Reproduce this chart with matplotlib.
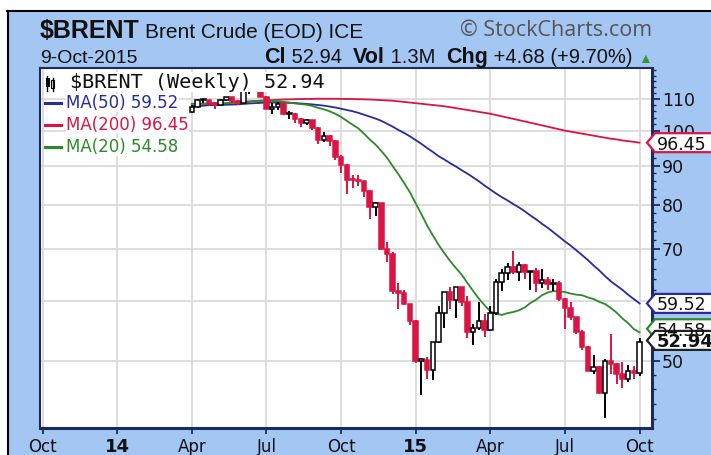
import matplotlib
matplotlib.use('Agg')
import matplotlib.pyplot as plt
from matplotlib.patches import Rectangle, Polygon
from matplotlib.lines import Line2D
from matplotlib.transforms import IdentityTransform
import pandas as pd

W, H = 711, 455

# ---------------- data ----------------
weeks = pd.date_range('2014-04-07', periods=79, freq='W-MON')
last_date = '9-Oct-2015'

opens = [105.8, 107.3, 109.5, 109.6, 108.6, 108.0, 109.8, 110.5, 109.4, 108.6,
         113.4, 114.8, 113.3, 110.6, 106.7, 107.2, 108.4, 105.0, 105.0, 103.5,
         102.3, 103.2, 100.8, 97.1, 98.4, 97.0, 92.3, 90.2, 86.2, 86.1,
         85.9, 83.4, 79.4, 80.4, 70.15, 69.07, 61.85, 61.38, 59.45, 56.4,
         50.11, 50.17, 48.79, 52.99, 57.8, 61.52, 60.22, 62.58, 59.73, 54.67,
         55.32, 56.41, 54.95, 57.87, 63.45, 65.28, 66.46, 65.39, 66.81, 65.37,
         65.56, 63.31, 63.87, 63.02, 63.26, 60.32, 58.73, 57.10, 54.62, 52.21,
         48.61, 49.19, 45.46, 50.05, 49.61, 48.14, 47.47, 48.60, 48.26]
highs = [108.0, 110.0, 110.1, 109.8, 108.9, 110.0, 110.7, 110.6, 109.5, 114.7,
         115.7, 115.3, 113.4, 110.8, 108.5, 108.9, 108.5, 106.1, 105.5, 103.8,
         103.6, 103.4, 101.0, 99.5, 98.6, 97.2, 93.0, 90.5, 87.5, 87.6,
         86.0, 83.6, 80.6, 80.5, 71.5, 69.4, 63.3, 62.0, 59.5, 56.7,
         50.5, 50.6, 53.0, 59.1, 61.5, 62.6, 62.6, 62.6, 60.8, 56.0,
         59.7, 57.6, 59.0, 64.0, 65.9, 67.1, 69.6, 67.5, 67.0, 65.7,
         66.2, 66.0, 64.5, 64.1, 63.6, 60.5, 59.8, 57.2, 54.9, 52.3,
         50.9, 49.3, 50.3, 54.3, 49.7, 49.9, 49.4, 49.3, 53.6]
lows = [105.5, 107.0, 108.6, 107.8, 106.8, 107.9, 109.4, 108.6, 107.9, 108.6,
        111.7, 112.8, 110.5, 106.7, 105.2, 106.3, 104.9, 103.7, 102.3, 101.0,
        101.8, 100.1, 96.2, 96.7, 95.6, 91.6, 88.1, 82.6, 84.2, 84.6,
        82.0, 76.8, 77.5, 69.8, 67.5, 61.3, 58.5, 59.2, 55.7, 49.7,
        45.2, 47.5, 47.3, 52.9, 55.3, 58.5, 57.0, 59.0, 53.7, 52.5,
        55.0, 53.8, 54.8, 57.5, 61.8, 63.9, 65.0, 63.6, 64.0, 61.9,
        61.6, 62.3, 61.9, 61.7, 60.0, 55.1, 56.6, 54.3, 51.7, 48.6,
        48.2, 45.3, 42.2, 48.2, 46.7, 46.2, 47.0, 47.4, 47.9]
closes = [107.3, 109.5, 109.6, 108.6, 108.0, 109.8, 110.5, 109.4, 108.6, 113.4,
          114.8, 113.3, 110.6, 106.7, 107.2, 108.4, 105.0, 105.0, 103.5, 102.3,
          103.2, 100.8, 97.1, 98.4, 97.0, 92.3, 90.2, 86.2, 86.1, 85.9,
          83.4, 79.4, 80.4, 70.15, 69.07, 61.85, 61.38, 59.45, 56.42, 50.11,
          50.17, 48.79, 52.99, 57.80, 61.52, 60.22, 62.58, 59.73, 54.67, 55.32,
          56.41, 54.95, 57.87, 63.45, 65.28, 66.46, 65.39, 66.81, 65.37, 65.56,
          63.31, 63.87, 63.02, 63.26, 60.32, 58.73, 57.10, 54.62, 52.21, 48.61,
          49.19, 45.46, 50.05, 49.61, 48.14, 47.47, 48.60, 48.26, 52.94]

ma20 = [108.4, 108.4, 108.5, 108.5, 108.5, 108.5, 108.6, 108.7, 108.7, 108.7,
        109.0, 109.3, 109.4, 109.3, 109.2, 109.2, 109.0, 108.8, 108.5, 108.3,
        108.1, 107.7, 107.1, 106.6, 106.0, 105.2, 104.2, 103.0, 101.8, 100.7,
        99.1, 97.4, 95.9, 94.1, 92.2, 89.9, 87.7, 85.4, 83.1, 80.4,
        77.8, 75.2, 73.0, 70.95, 69.2, 67.6, 66.2, 64.9, 63.3, 61.8,
        60.4, 59.2, 58.1, 57.7, 57.5, 57.8, 58.0, 58.3, 58.8, 59.6,
        60.2, 61.0, 61.5, 61.75, 61.7, 61.6, 61.3, 61.1, 61.0, 60.6,
        60.3, 59.8, 59.4, 58.7, 57.9, 56.9, 56.1, 55.1, 54.58]
ma50 = [107.8, 107.85, 107.9, 107.95, 108.0, 108.05, 108.1, 108.15, 108.2, 108.35,
        108.5, 108.6, 108.7, 108.8, 108.8, 108.8, 108.75, 108.7, 108.65, 108.5,
        108.35, 108.2, 108.0, 107.8, 107.5, 107.2, 106.8, 106.4, 106.0, 105.5,
        104.9, 104.3, 103.7, 103.0, 102.1, 101.2, 100.2, 99.3, 98.3, 97.2,
        96.1, 94.9, 93.8, 92.6, 91.7, 90.7, 89.8, 88.8, 87.9, 86.9,
        85.9, 84.8, 83.8, 82.8, 81.9, 81.1, 80.2, 79.4, 78.5, 77.5,
        76.6, 75.6, 74.7, 73.7, 72.7, 71.7, 70.8, 69.8, 68.8, 67.8,
        66.7, 65.7, 64.6, 63.6, 62.8, 62.0, 61.1, 60.3, 59.52]
ma200 = [107.4, 107.6, 107.8, 108.0, 108.2, 108.4, 108.6, 108.8, 108.9, 109.1,
         109.2, 109.3, 109.4, 109.5, 109.6, 109.7, 109.8, 109.85, 109.9, 109.95,
         110.0, 110.0, 110.05, 110.05, 110.05, 110.05, 110.0, 110.0, 109.95, 109.9,
         109.85, 109.8, 109.7, 109.6, 109.5, 109.4, 109.2, 109.0, 108.8, 108.6,
         108.4, 108.2, 108.0, 107.8, 107.6, 107.3, 107.0, 106.7, 106.4, 106.1,
         105.8, 105.5, 105.2, 104.8, 104.4, 104.0, 103.6, 103.2, 102.8, 102.4,
         102.0, 101.6, 101.2, 100.8, 100.4, 100.0, 99.7, 99.4, 99.1, 98.8,
         98.5, 98.2, 97.9, 97.6, 97.4, 97.1, 96.9, 96.7, 96.45]

x_tick_pos = [-26, -13, 0, 13, 26, 39, 52, 65, 78]
x_tick_labels = ['Oct', '14', 'Apr', 'Jul', 'Oct', '15', 'Apr', 'Jul', 'Oct']
x_tick_bold = [False, True, False, False, False, True, False, False, False]
price_ticks = [50, 60, 70, 80, 90, 100, 110]
minor_ticks = [42, 44, 46, 48, 52, 54, 56, 58, 62, 64, 66, 68, 72, 74, 76, 78,
               82, 84, 86, 88, 92, 94, 96, 98, 102, 104, 106, 108, 112, 114, 116, 118, 120]

last_close, last_vol, last_chg, last_pct = 52.94, '1.3M', 4.68, 9.70

# ---------------- style ----------------
BG = '#a3c6f3'
NAVY = '#1b2b5e'
RED = '#dc1443'
BLUE = '#2a2aa0'
GREEN = '#2a8a2a'
GRID = '#dadada'
FONT = ['Liberation Sans', 'DejaVu Sans']

fig = plt.figure(figsize=(W / 100, H / 100), dpi=100, facecolor=BG)

def px(x, y):
    return x / W, 1 - y / H

# white margins and black frame lines (top and left)
fig.add_artist(Rectangle((0, 1 - 10 / H), 1, 10 / H, transform=fig.transFigure,
                         facecolor='white', edgecolor='none', zorder=0))
fig.add_artist(Rectangle((0, 0), 7 / W, 1, transform=fig.transFigure,
                         facecolor='white', edgecolor='none', zorder=0))
fig.add_artist(Line2D([7 / W, 1], [1 - 10.5 / H, 1 - 10.5 / H], transform=fig.transFigure,
                      color='black', lw=1.5, zorder=1))
fig.add_artist(Line2D([7.5 / W, 7.5 / W], [0, 1 - 10.5 / H], transform=fig.transFigure,
                      color='black', lw=1.5, zorder=1))

L, T, R, B = 40, 68, 652, 428
ax = fig.add_axes([L / W, 1 - B / H, (R - L) / W, (B - T) / H])
ax.set_facecolor('white')
ax.set_yscale('log')
ax.set_ylim(40.94, 120.7)
ax.set_xlim(-26.45, 80.17)

for s in ax.spines.values():
    s.set_color(NAVY)
ax.spines['left'].set_linewidth(1.5)
ax.spines['top'].set_linewidth(1.5)
ax.spines['bottom'].set_linewidth(2.2)
ax.spines['right'].set_linewidth(2.2)

# grid
for xp in x_tick_pos:
    ax.axvline(xp, color=GRID, lw=1.3, zorder=0)
for yp in price_ticks:
    ax.axhline(yp, color=GRID, lw=1.3, zorder=0)

# axes ticks
ax.yaxis.tick_right()
ax.set_yticks(price_ticks)
ax.set_yticklabels([str(p) for p in price_ticks])
ax.set_yticks(minor_ticks, minor=True)
ax.yaxis.set_minor_formatter(matplotlib.ticker.NullFormatter())
ax.tick_params(axis='y', which='major', length=6, width=1.3, color=NAVY, pad=1,
               labelsize=12.5, labelcolor='#111111')
ax.tick_params(axis='y', which='minor', length=3, width=1.0, color=NAVY)
for lab in ax.get_yticklabels():
    lab.set_family('DejaVu Sans')

ax.set_xticks(x_tick_pos)
ax.set_xticklabels(x_tick_labels)
ax.tick_params(axis='x', length=4, width=1.3, color=NAVY, pad=3, labelsize=12,
               labelcolor='#111111')
for lab, bold in zip(ax.get_xticklabels(), x_tick_bold):
    lab.set_family('DejaVu Sans')
    if bold:
        lab.set_fontweight('bold')
        lab.set_fontsize(13)

# moving averages
xs = list(range(len(closes)))
ax.plot(xs, ma200, color=RED, lw=1.3, zorder=3)
ax.plot(xs, ma50, color=BLUE, lw=1.3, zorder=3)
ax.plot(xs, ma20, color=GREEN, lw=1.3, zorder=3)

# candles
bw = 0.8
for i, (o, h, l, c) in enumerate(zip(opens, highs, lows, closes)):
    prev = closes[i - 1] if i > 0 else o
    col = RED if c < prev else 'black'
    filled = c < o
    ax.plot([i, i], [l, h], color=col, lw=1.4, zorder=4, solid_capstyle='butt')
    lo, hi = min(o, c), max(o, c)
    if hi / lo < 1.005:
        hi = lo * 1.005
    ax.add_patch(Rectangle((i - bw / 2, lo), bw, hi - lo,
                           facecolor=col if filled else 'white',
                           edgecolor=col, lw=1.1, zorder=5))

# legend inside plot
leg_font = 12
ax.text(0.049, 1 - (82 - T) / (B - T), '$BRENT (Weekly) 52.94', transform=ax.transAxes,
        family='DejaVu Sans Mono', fontsize=14.5, color='#111111', va='center', ha='left',
        zorder=7, bbox=dict(facecolor='white', edgecolor='none', pad=0.5))
# small candle icon
fig.add_artist(Rectangle(px(46, 86), 3 / W, 8 / H, transform=fig.transFigure,
                         facecolor='black', edgecolor='black', lw=0.8, zorder=8))
fig.add_artist(Rectangle(px(51, 88), 3 / W, 8 / H, transform=fig.transFigure,
                         facecolor='white', edgecolor='black', lw=0.8, zorder=8))
fig.add_artist(Line2D([47.5 / W, 47.5 / W], [1 - 91 / H, 1 - 76 / H], transform=fig.transFigure,
                      color='black', lw=1, zorder=8))
fig.add_artist(Line2D([52.5 / W, 52.5 / W], [1 - 91 / H, 1 - 78 / H], transform=fig.transFigure,
                      color='black', lw=1, zorder=8))

legend_rows = [('MA(50) %.2f' % ma50[-1], BLUE, 103),
               ('MA(200) %.2f' % ma200[-1], RED, 125),
               ('MA(20) %.2f' % ma20[-1], GREEN, 147)]
for txt, col, yy in legend_rows:
    fig.add_artist(Line2D([45 / W, 61 / W], [1 - yy / H, 1 - yy / H], transform=fig.transFigure,
                          color=col, lw=2.2, zorder=8))
    fig.text(66 / W, 1 - yy / H, txt, family='DejaVu Sans', fontsize=leg_font, color=col,
             va='center', ha='left', zorder=8,
             bbox=dict(facecolor='white', edgecolor='none', pad=0.3))

# header
fig.text(40 / W, 1 - 38 / H, '$BRENT', family=FONT, fontweight='bold', fontsize=18,
         color='#111111', va='baseline', ha='left')
fig.text(145 / W, 1 - 38 / H, 'Brent Crude (EOD) ICE', family=FONT, fontsize=15,
         color='#111111', va='baseline', ha='left')
fig.text(652 / W, 1 - 36 / H, '\u00a9 StockCharts.com', family=['Open Sans', 'DejaVu Sans'],
         fontsize=15.5, color='#555555', va='baseline', ha='right')
fig.text(40 / W, 1 - 63 / H, last_date, family=FONT,
         fontsize=14, color='#111111', va='baseline', ha='left')

renderer = fig.canvas.get_renderer()
pieces = [('Cl', 'bold', '#111111', 15.5), (' %.2f  ' % last_close, 'normal', '#111111', 14.5),
          ('Vol', 'bold', '#111111', 15.5), (' %s  ' % last_vol, 'normal', '#111111', 14.5),
          ('Chg', 'bold', '#111111', 15.5),
          (' +%.2f (+%.2f%%) ' % (last_chg, last_pct), 'normal', '#111111', 14.5),
          ('\u25b2', 'normal', '#2e9a2e', 10)]
widths = []
for t, wgt, col, sz in pieces:
    tt = fig.text(0, 0, t, family=FONT, fontweight=wgt, fontsize=sz)
    widths.append(tt.get_window_extent(renderer).width)
    tt.remove()
xcur = 652 - sum(widths)
for (t, wgt, col, sz), wd in zip(pieces, widths):
    fig.text(xcur / W, 1 - 63 / H, t, family=FONT, fontweight=wgt, fontsize=sz, color=col,
             va='baseline', ha='left')
    xcur += wd

# value tags on the right axis
def tag(val, col, bold=False, shift=0.0):
    y = ax.transData.transform((0, val))[1] + shift
    hh = 9.5
    pts = [(647, y), (655, y + hh), (715, y + hh), (715, y - hh), (655, y - hh)]
    fig.add_artist(Polygon(pts, closed=True, transform=IdentityTransform(),
                           facecolor='white', edgecolor=col, lw=1.6, zorder=10))
    fig.text(657, y, '%.2f' % val, transform=IdentityTransform(), family='DejaVu Sans',
             fontsize=13 if bold else 12.5, fontweight='bold' if bold else 'normal',
             color='#111111', va='center_baseline', ha='left', zorder=11)

tag(ma200[-1], RED)
tag(ma50[-1], BLUE)
tag(ma20[-1], GREEN, shift=3.5)
tag(closes[-1], '#222222', bold=True, shift=2)

fig.savefig('out.png', dpi=100, facecolor=BG)
